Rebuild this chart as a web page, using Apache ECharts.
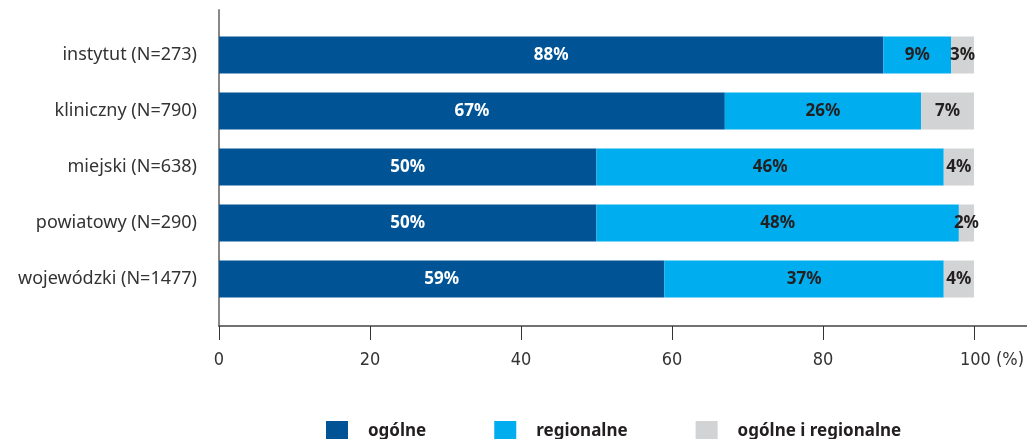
<!DOCTYPE html>
<html>
<head>
<meta charset="utf-8">
<script src="https://cdn.jsdelivr.net/npm/echarts@6/dist/echarts.min.js"></script>
<style>
  html, body { margin: 0; padding: 0; background: #fff; }
  #chart { width: 1027px; height: 439px; }
</style>
</head>
<body>
<div id="chart"></div>
<script>
// dane
const categories = ['instytut (N=273)', 'kliniczny (N=790)', 'miejski (N=638)', 'powiatowy (N=290)', 'wojewódzki (N=1477)'];
const seriesNames = ['ogólne', 'regionalne', 'ogólne i regionalne'];
const ogolne = [88, 67, 50, 50, 59];
const regionalne = [9, 26, 46, 48, 37];
const oba = [3, 7, 4, 2, 4];
const xTicks = [0, 20, 40, 60, 80, 100];

const colors = ['#005496', '#00adee', '#d1d3d4'];
const font = '"Noto Sans", sans-serif';

let myChart = echarts.init(document.getElementById('chart'));

function barSeries(name, data, color, labelColor) {
  return {
    name: name,
    type: 'bar',
    stack: 'all',
    xAxisIndex: 0,
    yAxisIndex: 0,
    barWidth: 37,
    data: data,
    itemStyle: { color: color },
    label: {
      show: true,
      position: 'inside',
      formatter: '{c}%',
      color: labelColor,
      fontFamily: font,
      fontWeight: 'bold',
      fontSize: 17
    }
  };
}

let option = {
  animation: false,
  color: colors,
  grid: [
    // słupki
    { left: 219, right: 51, top: 27, bottom: 132 },
    // ramka (tylko linie osi)
    { left: 219, right: 0, top: 10, bottom: 113 }
  ],
  legend: {
    data: seriesNames,
    left: 321,
    top: 416,
    itemWidth: 22,
    itemHeight: 21,
    itemGap: 68,
    icon: 'rect',
    textStyle: { fontFamily: font, fontWeight: 'bold', fontSize: 17, color: '#231f20', padding: [0, 0, 0, 15] }
  },
  xAxis: [
    {
      type: 'value',
      gridIndex: 0,
      min: 0,
      max: 100,
      interval: 20,
      offset: 19,
      axisLine: { show: false },
      axisTick: { show: true, length: 14, lineStyle: { color: '#333' } },
      splitLine: { show: false },
      axisLabel: {
        margin: 25,
        fontFamily: '"DejaVu Sans Condensed", "Liberation Sans Narrow", "Noto Sans", sans-serif',
        fontSize: 18,
        color: '#333',
        formatter: v => xTicks.includes(v) ? (v === 100 ? '       100 (%)' : String(v)) : ''
      }
    },
    {
      type: 'value',
      gridIndex: 1,
      min: 0,
      max: 100,
      axisLine: { show: true, lineStyle: { color: '#444', width: 1.5 } },
      axisTick: { show: false },
      axisLabel: { show: false },
      splitLine: { show: false }
    }
  ],
  yAxis: [
    {
      type: 'category',
      gridIndex: 0,
      inverse: true,
      data: categories,
      axisLine: { show: false },
      axisTick: { show: false },
      axisLabel: { margin: 22, fontFamily: font, fontSize: 18, color: '#333' }
    },
    {
      type: 'value',
      gridIndex: 1,
      axisLine: { show: true, lineStyle: { color: '#888', width: 2 } },
      axisTick: { show: false },
      axisLabel: { show: false },
      splitLine: { show: false }
    }
  ],
  series: [
    barSeries(seriesNames[0], ogolne, colors[0], '#fff'),
    barSeries(seriesNames[1], regionalne, colors[1], '#231f20'),
    barSeries(seriesNames[2], oba, colors[2], '#231f20')
  ]
};
myChart.setOption(option);
</script>
</body>
</html>
